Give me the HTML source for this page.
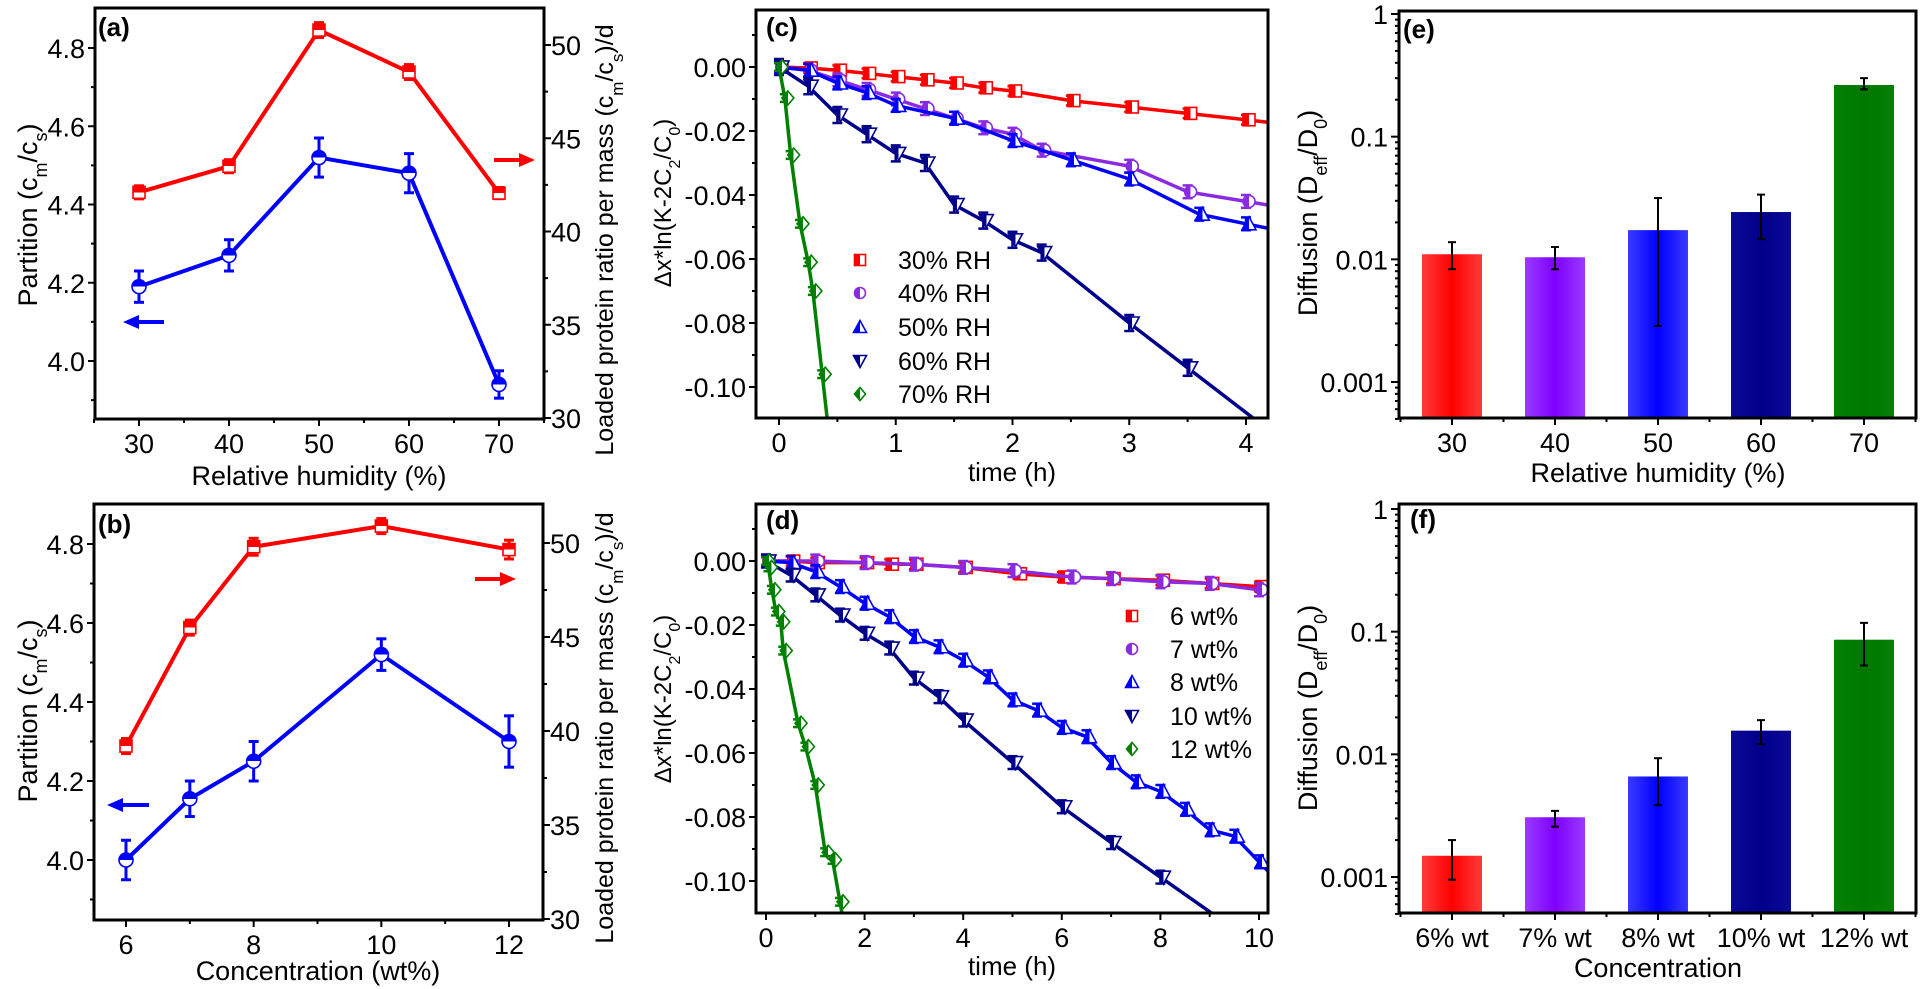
<!DOCTYPE html>
<html><head><meta charset="utf-8">
<style>
html,body{margin:0;padding:0;background:#fff;overflow:hidden;}
svg{display:block;font-family:"Liberation Sans",Arial,sans-serif;}
</style></head>
<body>
<svg id="fig" width="1920" height="989" viewBox="0 0 1920 989" xmlns="http://www.w3.org/2000/svg">
<defs id="defs">
<clipPath id="clipC"><rect x="756" y="10" width="512" height="408"/></clipPath>
<clipPath id="clipD"><rect x="756" y="504" width="512" height="409"/></clipPath>
</defs>
<text transform="translate(37,215) rotate(-90)" text-anchor="middle" font-size="27">Partition (c<tspan baseline-shift="sub" font-size="18">m</tspan>/c<tspan baseline-shift="sub" font-size="18">s</tspan>)</text>
<text transform="translate(613,240) rotate(-90)" text-anchor="middle" font-size="25">Loaded protein ratio per mass (c<tspan baseline-shift="sub" font-size="17">m</tspan>/c<tspan baseline-shift="sub" font-size="17">s</tspan>)/d</text>
<text x="319" y="485" text-anchor="middle" font-size="27">Relative humidity (%)</text>
<text x="98" y="36" font-size="26" font-weight="bold">(a)</text>

<text transform="translate(37,711) rotate(-90)" text-anchor="middle" font-size="27">Partition (c<tspan baseline-shift="sub" font-size="18">m</tspan>/c<tspan baseline-shift="sub" font-size="18">s</tspan>)</text>
<text transform="translate(613,728) rotate(-90)" text-anchor="middle" font-size="25">Loaded protein ratio per mass (c<tspan baseline-shift="sub" font-size="17">m</tspan>/c<tspan baseline-shift="sub" font-size="17">s</tspan>)/d</text>
<text x="318" y="980" text-anchor="middle" font-size="27">Concentration (wt%)</text>
<text x="98" y="533" font-size="26" font-weight="bold">(b)</text>

<text transform="translate(671,203) rotate(-90)" text-anchor="middle" font-size="24">Δx*ln(K-2C<tspan baseline-shift="sub" font-size="16">2</tspan>/C<tspan baseline-shift="sub" font-size="16">0</tspan>)</text>
<text x="1012" y="481" text-anchor="middle" font-size="26">time (h)</text>
<text x="766" y="36" font-size="26" font-weight="bold">(c)</text>

<text transform="translate(671,699) rotate(-90)" text-anchor="middle" font-size="24">Δx*ln(K-2C<tspan baseline-shift="sub" font-size="16">2</tspan>/C<tspan baseline-shift="sub" font-size="16">0</tspan>)</text>
<text x="1012" y="975" text-anchor="middle" font-size="26">time (h)</text>
<text x="766" y="529" font-size="26" font-weight="bold">(d)</text>

<text transform="translate(1317,213) rotate(-90)" text-anchor="middle" font-size="27">Diffusion (D<tspan baseline-shift="sub" font-size="18">eff</tspan>/D<tspan baseline-shift="sub" font-size="18">0</tspan>)</text>
<text x="1658" y="482" text-anchor="middle" font-size="27">Relative humidity (%)</text>
<text x="1403" y="38" font-size="26" font-weight="bold">(e)</text>

<text transform="translate(1317,708) rotate(-90)" text-anchor="middle" font-size="27">Diffusion (D<tspan baseline-shift="sub" font-size="18">eff</tspan>/D<tspan baseline-shift="sub" font-size="18">0</tspan>)</text>
<text x="1658" y="977" text-anchor="middle" font-size="27">Concentration</text>
<text x="1410" y="528" font-size="26" font-weight="bold">(f)</text>
</svg>
<script>
const rhCats=[30,40,50,60,70];
const aPartition=[4.19,4.27,4.52,4.48,3.94];
const aPartErr=[0.04,0.04,0.05,0.05,0.035];
const aLoaded=[42.1,43.5,50.8,48.55,42.06];
const aLoadedErr=[0.35,0.35,0.4,0.4,0.3];
const concCats=[6,7,8,10,12];
const bPartition=[4.00,4.155,4.25,4.52,4.30];
const bPartErr=[0.05,0.045,0.05,0.04,0.065];
const bLoaded=[39.2,45.5,49.8,50.9,49.65];
const bLoadedErr=[0.4,0.4,0.45,0.4,0.5];
const partTicks=[4.0,4.2,4.4,4.6,4.8];
const loadTicks=[30,35,40,45,50];
const rhTicks=[30,40,50,60,70];
const concTicks=[6,8,10,12];

const cT30=[0,0.25,0.5,0.75,1,1.25,1.5,1.75,2,2.5,3,3.5,4];
const cY30=[0,-0.0003,-0.001,-0.002,-0.003,-0.004,-0.005,-0.0065,-0.0075,-0.0105,-0.0125,-0.0145,-0.0165];
const cT40=[0,0.25,0.5,0.75,1,1.25,1.5,1.75,2,2.25,3,3.5,4];
const cY40=[0,-0.001,-0.004,-0.007,-0.010,-0.013,-0.016,-0.019,-0.021,-0.026,-0.031,-0.039,-0.042];
const cT50=[0,0.25,0.5,0.75,1,1.5,2,2.5,3,3.6,4];
const cY50=[0,-0.001,-0.005,-0.008,-0.012,-0.016,-0.023,-0.029,-0.035,-0.046,-0.049];
const cT60=[0,0.25,0.5,0.75,1,1.25,1.5,1.75,2,2.25,3,3.5];
const cY60=[0,-0.006,-0.015,-0.021,-0.027,-0.030,-0.043,-0.048,-0.054,-0.058,-0.080,-0.094];
const cT70=[0,0.05,0.1,0.18,0.25,0.29,0.37];
const cY70=[0,-0.0097,-0.0275,-0.049,-0.061,-0.070,-0.096];
const cErr=[0.0015,0.002,0.002,0.0025,0.0012];
const cLegend=["30% RH","40% RH","50% RH","60% RH","70% RH"];
const cXTicks=[0,1,2,3,4];

const dT6=[0,0.5,1,2,2.5,3,4,5.1,6,7,8,9,10];
const dY6=[0,0,-0.0005,-0.0005,-0.001,-0.001,-0.002,-0.004,-0.005,-0.0055,-0.006,-0.007,-0.008];
const dT7=[0,1,2,3,4,5,6.2,7,8,9,10];
const dY7=[0,0,-0.0005,-0.001,-0.002,-0.003,-0.005,-0.0055,-0.0065,-0.007,-0.009];
const dT8=[0,0.5,1,1.5,2,2.5,3,3.5,4,4.5,5,5.5,6,6.5,7,7.5,8,8.5,9,9.5,10];
const dY8=[0,-0.0005,-0.0033,-0.008,-0.0132,-0.0174,-0.0236,-0.0268,-0.031,-0.0362,-0.0434,-0.0466,-0.052,-0.0549,-0.063,-0.069,-0.072,-0.0776,-0.084,-0.086,-0.094];
const dT10=[0,0.5,1,1.5,2,2.5,3,3.5,4,5,6,7,8];
const dY10=[0,-0.0044,-0.0106,-0.0169,-0.0226,-0.0272,-0.0366,-0.0424,-0.0497,-0.063,-0.0768,-0.088,-0.0988];
const dT12=[0,0.05,0.12,0.2,0.3,0.35,0.65,0.8,1.0,1.2,1.35,1.5];
const dY12=[0,-0.002,-0.009,-0.0158,-0.019,-0.028,-0.0507,-0.058,-0.070,-0.091,-0.0934,-0.1065];
const dErr=[0.0015,0.002,0.002,0.002,0.0012];
const dLegend=["6 wt%","7 wt%","8 wt%","10 wt%","12 wt%"];
const dXTicks=[0,2,4,6,8,10];
const kinTicks=[0,-0.02,-0.04,-0.06,-0.08,-0.10];
const kinTickLabels=["0.00","-0.02","-0.04","-0.06","-0.08","-0.10"];

const eCats=["30","40","50","60","70"];
const eVals=[0.011,0.0104,0.0173,0.0243,0.264];
const eHi=[0.0138,0.0126,0.0316,0.0337,0.30];
const eLo=[0.0083,0.0083,0.00286,0.0146,0.243];
const fCats=["6% wt","7% wt","8% wt","10% wt","12% wt"];
const fVals=[0.00149,0.00307,0.0066,0.0156,0.086];
const fHi=[0.0020,0.00346,0.0093,0.019,0.118];
const fLo=[0.00095,0.00257,0.00385,0.0121,0.053];
const logTicks=[1,0.1,0.01,0.001];
const logTickLabels=["1","0.1","0.01","0.001"];

const NS='http://www.w3.org/2000/svg';
const svg=document.getElementById('fig');
const defs=document.getElementById('defs');
const TF=27;
function mk(tag,attrs,parent){const e=document.createElementNS(NS,tag);for(const k in attrs)e.setAttribute(k,attrs[k]);(parent||svg).appendChild(e);return e;}
function lin(d0,d1,p0,p1){return v=>p0+(v-d0)*(p1-p0)/(d1-d0);}
let gid=0;
function halfGrad(color,vertical){
  const id='hg'+(gid++);
  const g=mk('linearGradient',{id:id,x1:0,y1:0,x2:vertical?0:1,y2:vertical?1:0},defs);
  mk('stop',{offset:'0.5','stop-color':color},g);
  mk('stop',{offset:'0.5','stop-color':'#fff'},g);
  return 'url(#'+id+')';
}
function barGrad(color,light){
  const id='bg'+(gid++);
  const g=mk('linearGradient',{id:id,x1:0,y1:0,x2:1,y2:0},defs);
  mk('stop',{offset:'0','stop-color':light},g);
  mk('stop',{offset:'0.5','stop-color':color},g);
  mk('stop',{offset:'1','stop-color':light},g);
  return 'url(#'+id+')';
}
function shapeAt(shape,cx,cy,s,color,fill,parent){
  const a={stroke:color,'stroke-width':1.6,fill:fill};
  let e;
  if(shape==='square'){a.x=cx-s/2;a.y=cy-s/2;a.width=s;a.height=s;e=mk('rect',a,parent);}
  else if(shape==='circle'){a.cx=cx;a.cy=cy;a.r=s/2;e=mk('circle',a,parent);}
  else if(shape==='tri'){a.points=`${cx},${cy-s/2-1} ${cx-s/2-1},${cy+s/2} ${cx+s/2+1},${cy+s/2}`;e=mk('polygon',a,parent);}
  else if(shape==='tridown'){a.points=`${cx},${cy+s/2+1} ${cx-s/2-1},${cy-s/2} ${cx+s/2+1},${cy-s/2}`;e=mk('polygon',a,parent);}
  else {a.points=`${cx},${cy-s/2-1} ${cx+s/2},${cy} ${cx},${cy+s/2+1} ${cx-s/2},${cy}`;e=mk('polygon',a,parent);}
  return e;
}
function errBar(x,y1,y2,color,w,cap,parent){
  mk('line',{x1:x,y1:y1,x2:x,y2:y2,stroke:color,'stroke-width':w},parent);
  mk('line',{x1:x-cap,y1:y1,x2:x+cap,y2:y1,stroke:color,'stroke-width':w},parent);
  mk('line',{x1:x-cap,y1:y2,x2:x+cap,y2:y2,stroke:color,'stroke-width':w},parent);
}
function frame(x0,y0,x1,y1,name){
  const r=mk('rect',{x:x0,y:y0,width:x1-x0,height:y1-y0,fill:'none',stroke:'#000','stroke-width':3});
  
  
}
function tick(x1,y1,x2,y2,parent){mk('line',{x1:x1,y1:y1,x2:x2,y2:y2,stroke:'#000','stroke-width':2},parent);}
function label(x,y,txt,anchor,size,parent){const t=mk('text',{x:x,y:y,'text-anchor':anchor,'font-size':size},parent);t.textContent=txt;return t;}
function arrow(x1,x2,y,color,name){
  const g=mk('g',{});
  
  
  const dir=x2>x1?1:-1;
  mk('line',{x1:x1,y1:y,x2:x2-dir*12,y2:y,stroke:color,'stroke-width':4},g);
  mk('polygon',{points:`${x2},${y} ${x2-dir*16},${y-7} ${x2-dir*16},${y+7}`,fill:color},g);
}

function dualPanel(p){
  const X=lin(p.xd[0],p.xd[1],p.xp[0],p.xp[1]);
  const YL=lin(4.0,4.8,p.yl[0],p.yl[1]);
  const YR=lin(30,50,p.yr[0],p.yr[1]);
  const ax=mk('g',{});
  
  
  p.xTicks.forEach(v=>{tick(X(v),p.box[3],X(v),p.box[3]+7,ax);label(X(v),p.box[3]+34,String(v),'middle',TF,ax);});
  p.xMinor.forEach(v=>tick(X(v),p.box[3],X(v),p.box[3]+4,ax));
  partTicks.forEach(v=>{tick(p.box[0],YL(v),p.box[0]-7,YL(v),ax);label(p.box[0]-10,YL(v)+10,v.toFixed(1),'end',TF,ax);});
  [3.9,4.1,4.3,4.5,4.7].forEach(v=>tick(p.box[0],YL(v),p.box[0]-4,YL(v),ax));
  loadTicks.forEach(v=>{tick(p.box[2],YR(v),p.box[2]+7,YR(v),ax);label(p.box[2]+7,YR(v)+10,String(v),'start',TF,ax);});
  [32.5,37.5,42.5,47.5].forEach(v=>tick(p.box[2],YR(v),p.box[2]+4,YR(v),ax));
  frame(p.box[0],p.box[1],p.box[2],p.box[3],p.id+'-plot-frame');
  const gr=mk('g',{});
  
  
  mk('polyline',{points:p.cats.map((c,i)=>X(c)+','+YR(p.loaded[i])).join(' '),fill:'none',stroke:'#ff0000','stroke-width':4},gr);
  const rf=halfGrad('#ff0000',true);
  p.cats.forEach((c,i)=>{
    errBar(X(c),YR(p.loaded[i]+p.loadedErr[i]),YR(p.loaded[i]-p.loadedErr[i]),'#ff0000',3,5,gr);
    shapeAt('square',X(c),YR(p.loaded[i]),12,'#ff0000',rf,gr);
  });
  const gb=mk('g',{});
  
  
  mk('polyline',{points:p.cats.map((c,i)=>X(c)+','+YL(p.part[i])).join(' '),fill:'none',stroke:'#0000ff','stroke-width':4},gb);
  const bf=halfGrad('#0000ff',true);
  p.cats.forEach((c,i)=>{
    errBar(X(c),YL(p.part[i]+p.partErr[i]),YL(p.part[i]-p.partErr[i]),'#0000ff',3,5,gb);
    shapeAt('circle',X(c),YL(p.part[i]),14,'#0000ff',bf,gb);
  });
}
dualPanel({id:'a',box:[95,8,544,419],xd:[30,70],xp:[139,499],yl:[361,48],yr:[418,45],
  cats:rhCats,part:aPartition,partErr:aPartErr,loaded:aLoaded,loadedErr:aLoadedErr,
  xTicks:rhTicks,xMinor:[25,35,45,55,65,75]});
arrow(164,123,322,'#0000ff','a-left-axis-arrow');
arrow(494,535,160,'#ff0000','a-right-axis-arrow');
dualPanel({id:'b',box:[94,504,543,920],xd:[6,12],xp:[126,509],yl:[860,544],yr:[919,543],
  cats:concCats,part:bPartition,partErr:bPartErr,loaded:bLoaded,loadedErr:bLoadedErr,
  xTicks:concTicks,xMinor:[7,9,11]});
arrow(149,107,805,'#0000ff','b-left-axis-arrow');
arrow(475,516,579,'#ff0000','b-right-axis-arrow');

const kinColors=['#ff0000','#8a2be2','#0000ff','#00008b','#008000'];
const kinShapes=['square','circle','tri','tridown','diamond'];
function kinPanel(p){
  const X=lin(p.xd[0],p.xd[1],p.xp[0],p.xp[1]);
  const Y=lin(0,-0.1,p.yp[0],p.yp[1]);
  const ax=mk('g',{});
  
  
  p.xTicks.forEach(v=>{tick(X(v),p.box[3],X(v),p.box[3]+7,ax);label(X(v),p.box[3]+34,String(v),'middle',TF,ax);});
  p.xMinor.forEach(v=>tick(X(v),p.box[3],X(v),p.box[3]+4,ax));
  kinTicks.forEach((v,i)=>{tick(p.box[0],Y(v),p.box[0]-7,Y(v),ax);label(p.box[0]-10,Y(v)+10,kinTickLabels[i],'end',TF,ax);});
  [0.01,-0.01,-0.03,-0.05,-0.07,-0.09].forEach(v=>tick(p.box[0],Y(v),p.box[0]-4,Y(v),ax));
  p.series.forEach((s,k)=>{
    const g=mk('g',{'clip-path':'url(#'+p.clip+')'});
    
    
    const T=s[0],V=s[1],n=T.length;
    const pts=T.map((t,i)=>[X(t),Y(V[i])]);
    const lx=pts[n-1][0],ly=pts[n-1][1];
    const dx=lx-pts[n-2][0],dy=ly-pts[n-2][1];
    let f=Infinity;
    if(dx>0)f=Math.min(f,(p.box[2]-lx)/dx);
    if(dy>0)f=Math.min(f,(p.box[3]-ly)/dy);
    if(isFinite(f)&&f>0)pts.push([lx+dx*f,ly+dy*f]);
    mk('polyline',{points:pts.map(q=>q.join(',')).join(' '),fill:'none',stroke:kinColors[k],'stroke-width':3.5},g);
    const fill=halfGrad(kinColors[k],false);
    T.forEach((t,i)=>{
      errBar(X(t),Y(V[i]+p.err[k]),Y(V[i]-p.err[k]),kinColors[k],2.5,5,g);
      shapeAt(kinShapes[k],X(t)+3,Y(V[i]),12,kinColors[k],fill,g);
    });
  });
  p.legend.forEach((txt,k)=>{
    const g=mk('g',{});
    
    
    shapeAt(kinShapes[k],p.legX,p.legY[k],11,kinColors[k],halfGrad(kinColors[k],false),g);
    label(p.legX+38,p.legY[k]+9,txt,'start',25,g);
  });
  frame(p.box[0],p.box[1],p.box[2],p.box[3],p.id+'-plot-frame');
}
kinPanel({id:'c',box:[756,10,1268,418],clip:'clipC',xd:[0,4],xp:[779,1246],yp:[67,387],
  xTicks:cXTicks,xMinor:[0.5,1.5,2.5,3.5],
  series:[[cT30,cY30],[cT40,cY40],[cT50,cY50],[cT60,cY60],[cT70,cY70]],err:cErr,
  legend:cLegend,legX:860,legY:[260,293,327,361,394]});
kinPanel({id:'d',box:[756,504,1268,913],clip:'clipD',xd:[0,10],xp:[766,1259],yp:[561,881],
  xTicks:dXTicks,xMinor:[1,3,5,7,9],
  series:[[dT6,dY6],[dT7,dY7],[dT8,dY8],[dT10,dY10],[dT12,dY12]],err:dErr,
  legend:dLegend,legX:1132,legY:[616,649,682,716,749]});

const barColors=[['#ff0000','#ff3a3a'],['#7f00ff','#9a3aff'],['#0000ff','#3a3aff'],['#00008b','#0a0a96'],['#007800','#008000']];
function barPanel(p){
  const X=lin(0,4,1452,1864);
  const Y=lin(0,-3,p.yp[0],p.yp[1]);
  const L=v=>Y(Math.log10(v));
  const ax=mk('g',{});
  
  
  logTicks.forEach((v,i)=>{tick(p.box[0],L(v),p.box[0]-8,L(v),ax);label(p.box[0]-11,L(v)+10,logTickLabels[i],'end',TF,ax);});
  [0.001,0.01,0.1].forEach(d=>{for(let m=2;m<10;m++){const v=d*m;if(L(v)>p.box[1]&&L(v)<p.box[3])tick(p.box[0],L(v),p.box[0]-4,L(v),ax);}});
  for(let m=5;m<10;m++)tick(p.box[0],L(0.0001*m),p.box[0]-4,L(0.0001*m),ax);
  p.cats.forEach((c,i)=>{tick(X(i),p.box[3],X(i),p.box[3]+7,ax);label(X(i),p.box[3]+34,c,'middle',TF,ax);});
  [-0.5,0.5,1.5,2.5,3.5,4.5].forEach(v=>tick(X(v),p.box[3],X(v),p.box[3]+4,ax));
  p.vals.forEach((v,i)=>{
    const g=mk('g',{});
    
    
    mk('rect',{x:X(i)-30,y:L(v),width:60,height:p.box[3]-L(v),fill:barGrad(barColors[i][0],barColors[i][1])},g);
    errBar(X(i),L(p.hi[i]),L(p.lo[i]),'#000',2,4,g);
  });
  frame(p.box[0],p.box[1],p.box[2],p.box[3],p.id+'-plot-frame');
}
barPanel({id:'e',box:[1399,11,1916,418],yp:[14,382],cats:eCats,vals:eVals,hi:eHi,lo:eLo});
barPanel({id:'f',box:[1399,504,1916,913],yp:[509,877],cats:fCats,vals:fVals,hi:fHi,lo:fLo});
</script>
</body></html>
